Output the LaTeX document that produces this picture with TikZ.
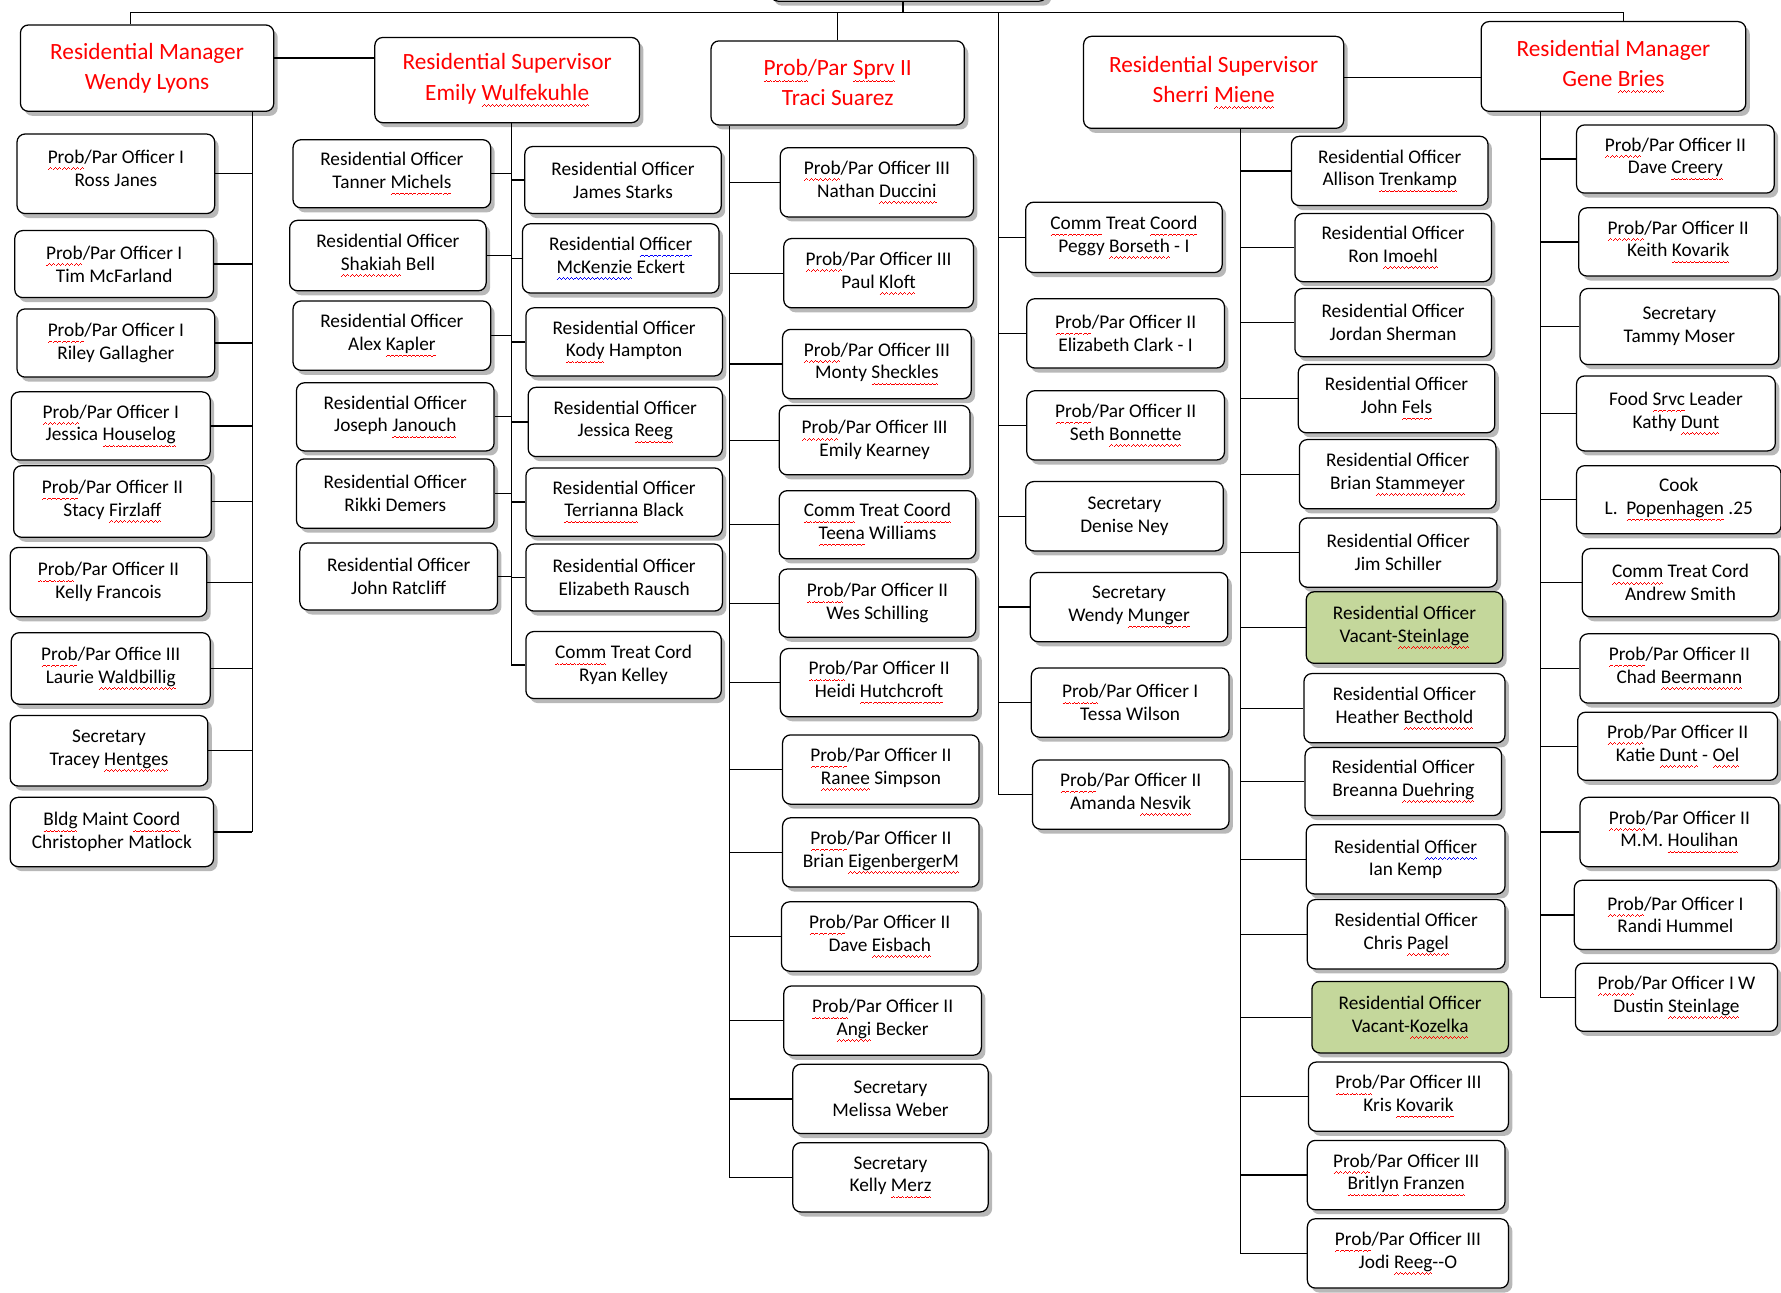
\documentclass[tikz,border=0pt]{standalone}
\usepackage{fontspec}
\setmainfont{Carlito}
\usetikzlibrary{shadows}
\definecolor{vac}{HTML}{C4D79B}
\newcommand\wvseg{\rule[-5.6pt]{0.9pt}{0.7pt}\rule[-4.9pt]{0.9pt}{0.7pt}\rule[-4.2pt]{0.9pt}{0.7pt}\rule[-4.9pt]{0.9pt}{0.7pt}}
\newcommand\sqc[2]{\leavevmode\setbox0\hbox{#2}\rlap{\hbox to \wd0{\color{#1}\xleaders\hbox{\wvseg}\hfill}}\box0\relax}
\newcommand\sq[1]{\sqc{red}{#1}}
\newcommand\sqb[1]{\sqc{blue}{#1}}
\newcommand\pp{\sq{Prob}/Par}
\tikzset{
  box/.style={draw=black, line width=1.1pt, rounded corners=7pt, fill=white, align=center,
    inner sep=0pt, font=\fontsize{17}{20}\selectfont,
    drop shadow={shadow xshift=3.5pt, shadow yshift=-4pt, fill=black!55}},
  hdr/.style={text=red, font=\fontsize{20.5}{26.5}\selectfont},
  vacant/.style={fill=vac},
  conn/.style={draw=black, line width=1.1pt},
}
% #1 options, #2 name, #3 x1, #4 y1, #5 x2, #6 y2, #7 text
\newcommand\bx[7][]{%
  \node[box,#1,minimum width={(#5-#3)*1pt},minimum height={(#6-#4)*1pt}] (#2) at ({(#3+#5)/2},{(#4+#6)/2}) {#7};}
\newcommand\cw[2]{\draw[conn] (#1.west) -- (#1.west -| #2);}
\newcommand\ce[2]{\draw[conn] (#1.east) -- (#1.east -| #2);}
\begin{document}
\begin{tikzpicture}[x=1pt,y=-1pt]
\useasboundingbox (0,0) rectangle (1568,1138);
\clip (0,0) rectangle (1568,1138);
\fill[white] (0,0) rectangle (1568,1138);

% trunk coordinates
\coordinate (topL) at (115,11);
\coordinate (topR) at (1429,11);
\coordinate (tv) at (795,11);
\coordinate (tc) at (879,11);
\coordinate (tw) at (222,0);
\coordinate (te) at (450,0);
\coordinate (tt) at (642,0);
\coordinate (ts) at (1092,0);
\coordinate (tg) at (1356,0);

% top (cut-off) box
\bx{top}{678}{-60}{922}{1}{}

% heads
\bx[hdr]{wendy}{18}{22}{241}{98}{Residential Manager\\Wendy Lyons}
\bx[hdr]{emily}{330}{33}{563}{108}{Residential Supervisor\\Emily \sq{Wulfekuhle}}
\bx[hdr]{traci}{626}{36}{849}{110}{\sq{Prob}/Par \sq{Sprv} II\\Traci Suarez}
\bx[hdr]{sherri}{954}{32}{1183}{113}{Residential Supervisor\\Sherri \sq{Miene}}
\bx[hdr]{gene}{1304}{19}{1537}{98}{Residential Manager\\Gene \sq{Bries}}

% Wendy column
\bx{w1}{15}{118}{189}{188}{\pp\ Officer I\\Ross Janes\\[-10pt]\mbox{}}
\bx{w2}{13}{203}{188}{262}{\pp\ Officer I\\Tim McFarland}
\bx{w3}{15}{272}{189}{332}{\pp\ Officer I\\Riley Gallagher}
\bx{w4}{10}{345}{185}{405}{\pp\ Officer I\\Jessica \sq{Houselog}}
\bx{w5}{12}{410}{186}{473}{\pp\ Officer II\\Stacy \sq{Firzlaff}}
\bx{w6}{9}{482}{182}{543}{\pp\ Officer II\\Kelly Francois}
\bx{w7}{10}{557}{185}{620}{\pp\ Office III\\Laurie \sq{Waldbillig}}
\bx{w8}{9}{630}{183}{692}{Secretary\\Tracey \sq{Hentges}}
\bx{w9}{9}{702}{188}{763}{\sq{Bldg} Maint \sq{Coord}\\Christopher Matlock}

% Emily columns
\bx{e1}{258}{123}{432}{183}{Residential Officer\\Tanner \sq{Michels}}
\bx{e2}{255}{194}{428}{256}{Residential Officer\\\sq{Shakiah} Bell}
\bx{e3}{258}{265}{432}{326}{Residential Officer\\Alex \sq{Kapler}}
\bx{e4}{261}{337}{435}{397}{Residential Officer\\Joseph \sq{Janouch}}
\bx{e5}{261}{404}{435}{465}{Residential Officer\\Rikki Demers}
\bx{e6}{264}{478}{438}{537}{Residential Officer\\John Ratcliff}
\bx{f1}{462}{129}{635}{188}{Residential Officer\\James Starks}
\bx{f2}{460}{197}{633}{258}{Residential \sqb{Officer}\\\sqb{McKenzie} Eckert}
\bx{f3}{463}{271}{636}{331}{Residential Officer\\\sq{Kody} Hampton}
\bx{f4}{465}{341}{636}{402}{Residential Officer\\Jessica \sq{Reeg}}
\bx{f5}{463}{412}{636}{472}{Residential Officer\\\sq{Terrianna} Black}
\bx{f6}{463}{479}{636}{538}{Residential Officer\\Elizabeth Rausch}
\bx{f7}{463}{556}{635}{615}{\sq{Comm} Treat Cord\\Ryan Kelley}

% Traci column
\bx{t1}{687}{130}{857}{191}{\pp\ Officer III\\Nathan \sq{Duccini}}
\bx{t2}{690}{210}{857}{271}{\pp\ Officer III\\Paul \sq{Kloft}}
\bx{t3}{689}{290}{855}{351}{\pp\ Officer III\\Monty \sq{Sheckles}}
\bx{t4}{686}{357}{854}{418}{\pp\ Officer III\\Emily Kearney}
\bx{t5}{686}{432}{859}{492}{\sq{Comm} Treat \sq{Coord}\\\sq{Teena} Williams}
\bx{t6}{686}{501}{859}{561}{\pp\ Officer II\\Wes Schilling}
\bx{t7}{687}{571}{861}{631}{\pp\ Officer II\\Heidi \sq{Hutchcroft}}
\bx{t8}{689}{647}{862}{708}{\pp\ Officer II\\\sq{Ranee} Simpson}
\bx{t9}{689}{720}{862}{781}{\pp\ Officer II\\Brian \sq{EigenbergerM}}
\bx{t10}{688}{794}{861}{855}{\pp\ Officer II\\Dave \sq{Eisbach}}
\bx{t11}{690}{868}{864}{929}{\pp\ Officer II\\\sq{Angi} Becker}
\bx{t12}{698}{937}{870}{998}{Secretary\\Melissa Weber}
\bx{t13}{698}{1006}{870}{1067}{Secretary\\Kelly \sq{Merz}}

% middle column
\bx{m1}{903}{178}{1076}{240}{\sq{Comm} Treat \sq{Coord}\\Peggy \sq{Borseth} - I}
\bx{m2}{904}{263}{1078}{324}{\pp\ Officer II\\Elizabeth Clark - I}
\bx{m3}{904}{344}{1078}{405}{\pp\ Officer II\\Seth \sq{Bonnette}}
\bx{m4}{903}{424}{1077}{485}{Secretary\\Denise Ney}
\bx{m5}{907}{504}{1081}{565}{Secretary\\Wendy \sq{Munger}}
\bx{m6}{908}{588}{1082}{649}{\pp\ Officer I\\Tessa Wilson}
\bx{m7}{909}{669}{1082}{730}{\pp\ Officer II\\Amanda \sq{Nesvik}}

% Sherri column
\bx{s1}{1137}{120}{1310}{181}{Residential Officer\\Allison \sq{Trenkamp}}
\bx{s2}{1140}{188}{1313}{248}{Residential Officer\\Ron \sq{Imoehl}}
\bx{s3}{1140}{254}{1313}{314}{Residential Officer\\Jordan Sherman}
\bx{s4}{1143}{321}{1316}{381}{Residential Officer\\John \sq{Fels}}
\bx{s5}{1144}{387}{1317}{448}{Residential Officer\\Brian \sq{Stammeyer}}
\bx{s6}{1144}{456}{1318}{517}{Residential Officer\\Jim Schiller}
\bx[vacant]{s7}{1150}{521}{1323}{584}{Residential Officer\\Vacant-\sq{Steinlage}}
\bx{s8}{1148}{593}{1325}{654}{Residential Officer\\Heather \sq{Becthold}}
\bx{s9}{1149}{658}{1322}{718}{Residential Officer\\Breanna \sq{Duehring}}
\bx{s10}{1150}{726}{1325}{787}{Residential \sqb{Officer}\\Ian Kemp}
\bx{s11}{1151}{792}{1325}{853}{Residential Officer\\Chris \sq{Pagel}}
\bx[vacant]{s12}{1155}{864}{1328}{927}{Residential Officer\\Vacant-\sq{Kozelka}}
\bx{s13}{1152}{935}{1328}{996}{\pp\ Officer III\\Kris \sq{Kovarik}}
\bx{s14}{1151}{1004}{1325}{1065}{\pp\ Officer III\\\sq{Britlyn} \sq{Franzen}}
\bx{s15}{1151}{1073}{1328}{1134}{\pp\ Officer III\\Jodi \sq{Reeg}-{}-O}

% Gene column
\bx{g1}{1388}{110}{1562}{170}{\pp\ Officer II\\Dave \sq{Creery}}
\bx{g2}{1390}{183}{1565}{243}{\pp\ Officer II\\Keith \sq{Kovarik}}
\bx{g3}{1391}{254}{1566}{321}{Secretary\\Tammy Moser}
\bx{g4}{1388}{331}{1563}{397}{Food \sq{Srvc} Leader\\Kathy \sq{Dunt}}
\bx{g5}{1388}{410}{1568}{470}{Cook\\L.\ \ \sq{Popenhagen} .25}
\bx{g6}{1393}{483}{1566}{543}{\sq{Comm} Treat Cord\\Andrew Smith}
\bx{g7}{1391}{558}{1566}{619}{\pp\ Officer II\\Chad \sq{Beermann}}
\bx{g8}{1389}{627}{1565}{687}{\pp\ Officer II\\Katie \sq{Dunt} - \sq{Oel}}
\bx{g9}{1391}{702}{1566}{763}{\pp\ Officer II\\M.M. \sq{Houlihan}}
\bx{g10}{1386}{775}{1564}{836}{\pp\ Officer I\\Randi Hummel}
\bx{g11}{1387}{848}{1565}{908}{\pp\ Officer I W\\Dustin \sq{Steinlage}}

% top connectors
\draw[conn] (topL |- wendy.north) -- (topL) -- (topR) -- (topR |- gene.north);
\draw[conn] (tv |- top.south) -- (tv);
\draw[conn] (traci.north) -- (traci.north |- topL);
\draw[conn] (tc) -- (tc |- m7.west);
\coordinate (wy) at (241,51);
\draw[conn] (wendy.east |- wy) -- (emily.west |- wy);
\coordinate (sy) at (1183,68);
\draw[conn] (sherri.east |- sy) -- (gene.west |- sy);

% trunks
\draw[conn] (tw |- wendy.south) -- (tw |- w9.east);
\draw[conn] (te |- emily.south) -- (te |- f7.west);
\draw[conn] (tt |- traci.south) -- (tt |- t13.west);
\draw[conn] (ts |- sherri.south) -- (ts |- s15.west);
\draw[conn] (tg |- gene.south) -- (tg |- g11.west);

% branches
\foreach \n in {w1,w2,w3,w4,w5,w6,w7,w8,w9}{\ce{\n}{tw}}
\foreach \n in {e1,e2,e3,e4,e5,e6}{\ce{\n}{te}}
\foreach \n in {f1,f2,f3,f4,f5,f6,f7}{\cw{\n}{te}}
\foreach \n in {t1,t2,t3,t4,t5,t6,t7,t8,t9,t10,t11,t12,t13}{\cw{\n}{tt}}
\foreach \n in {m1,m2,m3,m4,m5,m6,m7}{\cw{\n}{tc}}
\foreach \n in {s1,s2,s3,s4,s5,s6,s7,s8,s9,s10,s11,s12,s13,s14,s15}{\cw{\n}{ts}}
\foreach \n in {g1,g2,g3,g4,g5,g6,g7,g8,g9,g10,g11}{\cw{\n}{tg}}
\end{tikzpicture}
\end{document}
